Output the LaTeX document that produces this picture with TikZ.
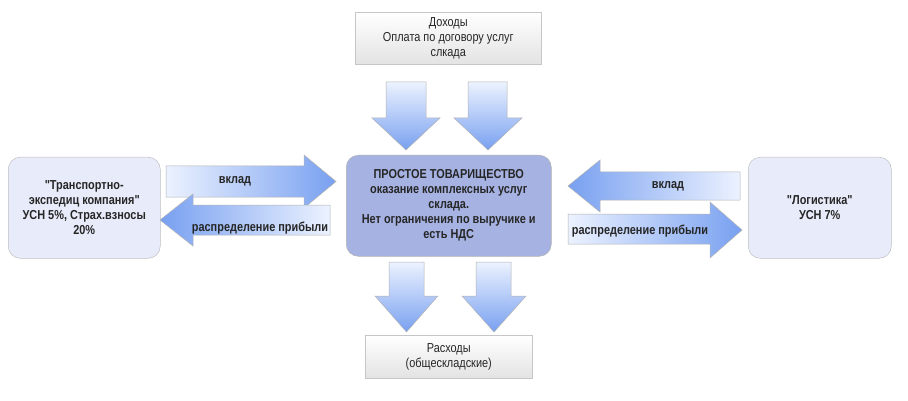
\documentclass[tikz,border=0pt]{standalone}
\usepackage{fontspec}
\setmainfont{Liberation Sans}[FakeStretch=0.84,Ligatures=TeXOff]
\definecolor{cfill}{RGB}{166,178,226}
\definecolor{sfill}{RGB}{232,236,250}
\definecolor{adark}{RGB}{120,160,240}
\definecolor{alight}{RGB}{236,242,255}
\begin{document}
\begin{tikzpicture}[x=1pt,y=-1pt,
  box/.style={rounded corners=12pt,draw=gray!50,line width=0.5pt},
  gbox/.style={draw=gray!45,line width=0.5pt,top color=white,bottom color=gray!22},
  arr/.style={draw=gray!60,line width=0.5pt},
  txt/.style={font=\fontsize{13}{15}\selectfont,align=center,text=black!85},
  btxt/.style={font=\fontsize{13}{15}\selectfont\bfseries,align=center,text=black!85}]
\useasboundingbox (0,0) rectangle (908,401);
\newcommand{\rarrow}[7]{%
  \path[arr,left color=alight,right color=adark] (#1,#6)--(#3,#6)--(#3,#4)--(#2,{(#4+#5)/2})--(#3,#5)--(#3,#7)--(#1,#7)--cycle;}
\newcommand{\larrow}[7]{%
  \path[arr,right color=alight,left color=adark] (#1,#6)--(#3,#6)--(#3,#4)--(#2,{(#4+#5)/2})--(#3,#5)--(#3,#7)--(#1,#7)--cycle;}
\newcommand{\darrow}[7]{%
  \path[arr,top color=alight,bottom color=adark] (#6,#1)--(#6,#3)--(#4,#3)--({(#4+#5)/2},#2)--(#5,#3)--(#7,#3)--(#7,#1)--cycle;}
\node[gbox,minimum width=186pt,minimum height=52pt,txt,anchor=north west] (inc) at (355,12) {Доходы\\Оплата по договору услуг\\слкада};
\node[gbox,minimum width=167pt,minimum height=43pt,txt,anchor=north west] (exp) at (365,335) {Расходы\\(общескладские)};
\node[box,fill=cfill,draw=gray!60,minimum width=205pt,minimum height=101pt,anchor=north west,btxt] (c) at (346,155) {ПРОСТОЕ ТОВАРИЩЕСТВО\\оказание комплексных услуг\\склада.\\Нет ограничения по выручике и\\есть НДС};
\node[box,fill=sfill,minimum width=152pt,minimum height=101pt,anchor=north west,btxt] (l) at (8,157) {"Транспортно-\\экспедиц компания"\\УСН 5\%, Страх.взносы\\20\%};
\node[box,fill=sfill,minimum width=143pt,minimum height=101pt,anchor=north west,btxt] (r) at (748,157) {"Логистика"\\УСН 7\%};
\darrow{82}{150}{118}{372}{440}{386}{426}
\darrow{82}{150}{118}{454}{522}{468}{507}
\darrow{262}{332}{296}{375}{438}{389}{424}
\darrow{262}{332}{296}{462}{526}{476}{511}
\rarrow{166}{336}{304}{155}{208}{166}{197}
\larrow{330}{160}{193}{194}{246}{205}{235}
\larrow{740}{568}{600}{160}{212}{172}{200}
\rarrow{568}{742}{710}{202}{258}{214}{244}
\node[btxt] (a1) at (235,181) {вклад};
\node[btxt] (a2) at (260,228) {распределение прибыли};
\node[btxt] (a3) at (668,186) {вклад};
\node[btxt] (a4) at (640,231) {распределение прибыли};
\end{tikzpicture}
\end{document}
